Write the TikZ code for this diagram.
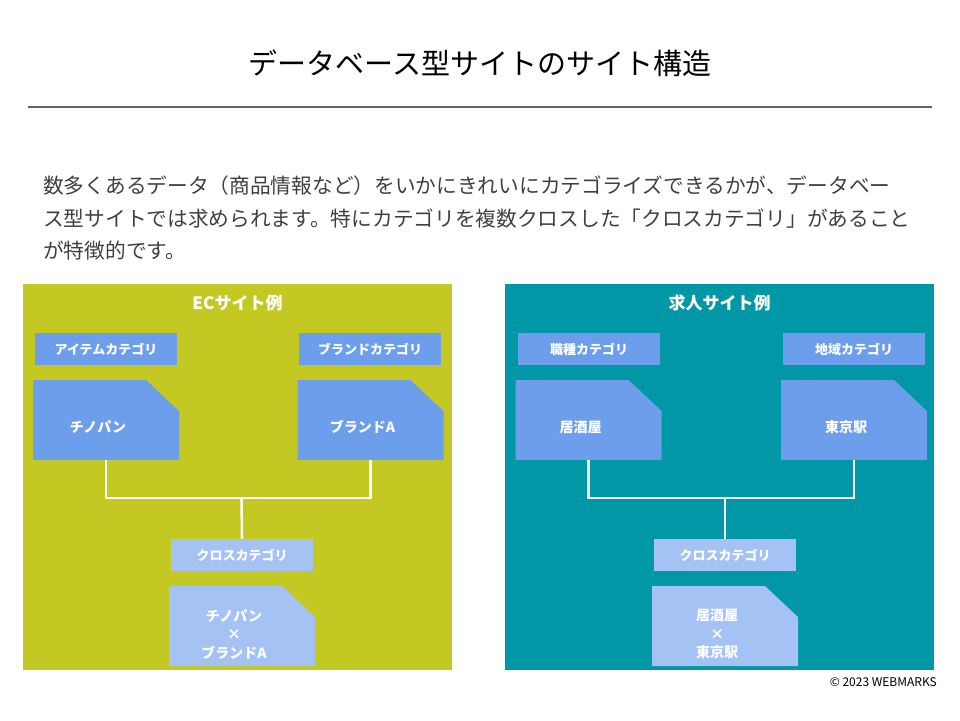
\documentclass[tikz,border=0pt]{standalone}
\usepackage{fontspec}
\setmainfont{Noto Sans CJK JP}
\usepackage{xcolor}
\definecolor{ecgreen}{RGB}{195,201,34}
\definecolor{jobteal}{RGB}{0,151,167}
\definecolor{catblue}{RGB}{109,158,235}
\definecolor{crossblue}{RGB}{164,194,244}
\definecolor{textgray}{RGB}{64,64,64}
\definecolor{rulegray}{RGB}{100,100,100}

\begin{document}
\begin{tikzpicture}[x=1pt, y=-1pt,
    panel/.style = {minimum width=429pt, minimum height=386pt, inner sep=0pt},
    head/.style = {text=white, font=\fontsize{17}{17}\selectfont\bfseries},
    line/.style = {anchor=west, inner sep=0pt, text=textgray, font=\fontsize{20.7}{20.7}\selectfont},
    cat/.style = {fill=#1, text=white, font=\fontsize{13}{13}\selectfont\bfseries,
        minimum width=142pt, minimum height=32pt, inner sep=0pt},
    item/.style = {minimum width=146pt, minimum height=80pt, inner sep=0pt,
        path picture={\fill[#1] (path picture bounding box.south west)
            -- (path picture bounding box.north west)
            -- ([xshift=-33pt]path picture bounding box.north east)
            -- ([yshift=-31pt]path picture bounding box.north east)
            -- (path picture bounding box.south east) -- cycle;}},
    itemtext/.style = {text=white, align=center, font=\fontsize{14}{18.5}\selectfont\bfseries},
    link/.style = {draw=white, line width=2.5pt}]
    \useasboundingbox (0,0) rectangle (960,720);

    % heading and text
    \node (title) at (480,63) {\fontsize{29}{29}\selectfont データベース型サイトのサイト構造};
    \draw[rulegray, line width=2pt] (28,107) -- (932,107);
    \node [line] (l1) at (43,186) {数多くあるデータ（商品情報など）をいかにきれいにカテゴライズできるかが、データベー};
    \node [line] (l2) at (43,219) {ス型サイトでは求められます。特にカテゴリを複数クロスした「クロスカテゴリ」があること};
    \node [line] (l3) at (43,251) {が特徴的です。};

    % EC site
    \node [panel, fill=ecgreen] (ec) at (237.5,477) {};
    \node [head] (echead) at (237.5,303) {ECサイト例};
    \node [cat=catblue] (eccat1) at (106,349) {アイテムカテゴリ};
    \node [cat=catblue] (eccat2) at (370,349) {ブランドカテゴリ};
    \node [item=catblue] (ecitem1) at (106,420) {};
    \node [item=catblue] (ecitem2) at (370.5,420) {};
    \node [itemtext] (ect1) at ([xshift=-8pt,yshift=-7pt]ecitem1.center) {チノパン};
    \node [itemtext] (ect2) at ([xshift=-8pt,yshift=-7pt]ecitem2.center) {ブランドA};
    \coordinate (ecjoin) at (241.5,498);
    \node [cat=crossblue] (eccross) at (242,555) {クロスカテゴリ};
    \node [item=crossblue] (ecboth) at (242,626) {};
    \node [itemtext] (ect3) at ([xshift=-8pt,yshift=-8pt]ecboth.center) {チノパン\\×\\ブランドA};
    \draw [link] (ecitem1.south) -- (ecitem1.south |- ecjoin) -- (ecitem2.south |- ecjoin) -- (ecitem2.south);
    \draw [link] (ecjoin) -- (eccross.north);

    % job site
    \node [panel, fill=jobteal] (job) at (719.5,477) {};
    \node [head] (jobhead) at (719.5,303) {求人サイト例};
    \node [cat=catblue] (jobcat1) at (589,349) {職種カテゴリ};
    \node [cat=catblue] (jobcat2) at (854,349) {地域カテゴリ};
    \node [item=catblue] (jobitem1) at (588.5,420) {};
    \node [item=catblue] (jobitem2) at (854,420) {};
    \node [itemtext] (jobt1) at ([xshift=-8pt,yshift=-7pt]jobitem1.center) {居酒屋};
    \node [itemtext] (jobt2) at ([xshift=-8pt,yshift=-7pt]jobitem2.center) {東京駅};
    \coordinate (jobjoin) at (725,498);
    \node [cat=crossblue] (jobcross) at (725,555) {クロスカテゴリ};
    \node [item=crossblue] (jobboth) at (725,626) {};
    \node [itemtext] (jobt3) at ([xshift=-8pt,yshift=-8pt]jobboth.center) {居酒屋\\×\\東京駅};
    \draw [link] (jobitem1.south) -- (jobitem1.south |- jobjoin) -- (jobitem2.south |- jobjoin) -- (jobitem2.south);
    \draw [link] (jobjoin) -- (jobcross.north);

    \node [anchor=east, inner sep=0pt, font=\fontsize{12}{12}\selectfont] (copy) at (937,682) {© 2023 WEBMARKS};
\end{tikzpicture}
\end{document}
